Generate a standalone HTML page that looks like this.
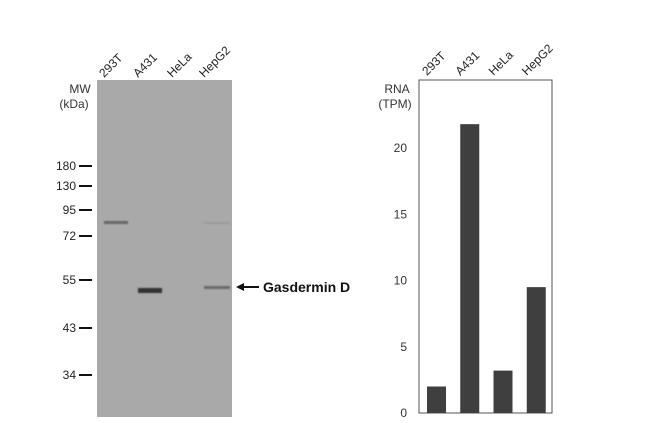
<!DOCTYPE html>
<html><head><meta charset="utf-8"><style>
body{margin:0;background:#fff;width:650px;height:423px;overflow:hidden;font-family:"Liberation Sans",sans-serif}
svg{display:block}
</style></head><body>
<svg width="650" height="423">
<defs><filter id="blur"><feGaussianBlur stdDeviation="0.8"/></filter></defs>
<g>
<rect x="97" y="80" width="135" height="337" fill="#a9a9a9"/>
<g filter="url(#blur)">
<rect x="104" y="221" width="24" height="3" fill="#666"/>
<rect x="138" y="288" width="24" height="5" fill="#333"/>
<rect x="204" y="286" width="26" height="3" fill="#6a6a6a"/>
<rect x="204" y="222" width="26" height="2" fill="#999"/>
</g>
</g>
<g font-size="12" fill="#222">
<text transform="translate(104,78) rotate(-45)">293T</text>
<text transform="translate(138,78) rotate(-45)">A431</text>
<text transform="translate(172,78) rotate(-45)">HeLa</text>
<text transform="translate(204,78) rotate(-45)">HepG2</text>
</g>
<text x="80" y="93" font-size="12" text-anchor="middle" fill="#333">MW</text>
<text x="74" y="108" font-size="12" text-anchor="middle" fill="#333">(kDa)</text>
<g id="mw" font-size="12" fill="#222"></g>
<g>
<line x1="242" y1="287" x2="259" y2="287" stroke="#111" stroke-width="2"/>
<polygon points="236,287 244,283 244,291" fill="#111"/>
<text x="263" y="292" font-size="14" font-weight="bold" fill="#111">Gasdermin D</text>
</g>
<g id="rna"></g>
</svg>
<script>
const mwLabels=["180","130","95","72","55","43","34"];
const mwY=[166,186,210,236,280,328,375];
const categories=["293T","A431","HeLa","HepG2"];
const rnaValues=[2.0,21.8,3.2,9.5];
const yTicks=[0,5,10,15,20];
const NS="http://www.w3.org/2000/svg";
function mk(t,a,p){const e=document.createElementNS(NS,t);for(const k in a)e.setAttribute(k,a[k]);p.appendChild(e);return e;}
const mw=document.getElementById('mw');
mwLabels.forEach((l,i)=>{
 const t=mk('text',{x:76,y:mwY[i]+4,'text-anchor':'end'},mw);t.textContent=l;
 
 
 mk('line',{x1:79,x2:92,y1:mwY[i],y2:mwY[i],stroke:'#111','stroke-width':2},mw);
});
const g=document.getElementById('rna');
const x0=419,x1=552,y0=413,yTop=80,ppu=13.25;
const y=v=>y0-v*ppu;
const frame=mk('rect',{x:x0,y:yTop,width:x1-x0,height:y0-yTop,fill:'none',stroke:'#555','stroke-width':1},g);


const bw=(x1-x0)/categories.length;
categories.forEach((c,i)=>{
 const b=mk('rect',{x:x0+i*bw+8,y:y(rnaValues[i]),width:19,height:rnaValues[i]*ppu,fill:'#3f3f3f'},g);
 
 
 const t=mk('text',{transform:`translate(${x0+i*bw+8},76) rotate(-45)`,'font-size':12,fill:'#222'},g);
 t.textContent=c;
 
 
});
yTicks.forEach(v=>{
 const t=mk('text',{x:407,y:y(v)+4,'text-anchor':'end','font-size':12,fill:'#333'},g);
 t.textContent=v;
 
 
});
const a=mk('text',{x:397,y:93,'text-anchor':'middle','font-size':12,fill:'#333'},g);a.textContent='RNA';


const b2=mk('text',{x:395,y:108,'text-anchor':'middle','font-size':12,fill:'#333'},g);b2.textContent='(TPM)';


</script>
</body></html>
